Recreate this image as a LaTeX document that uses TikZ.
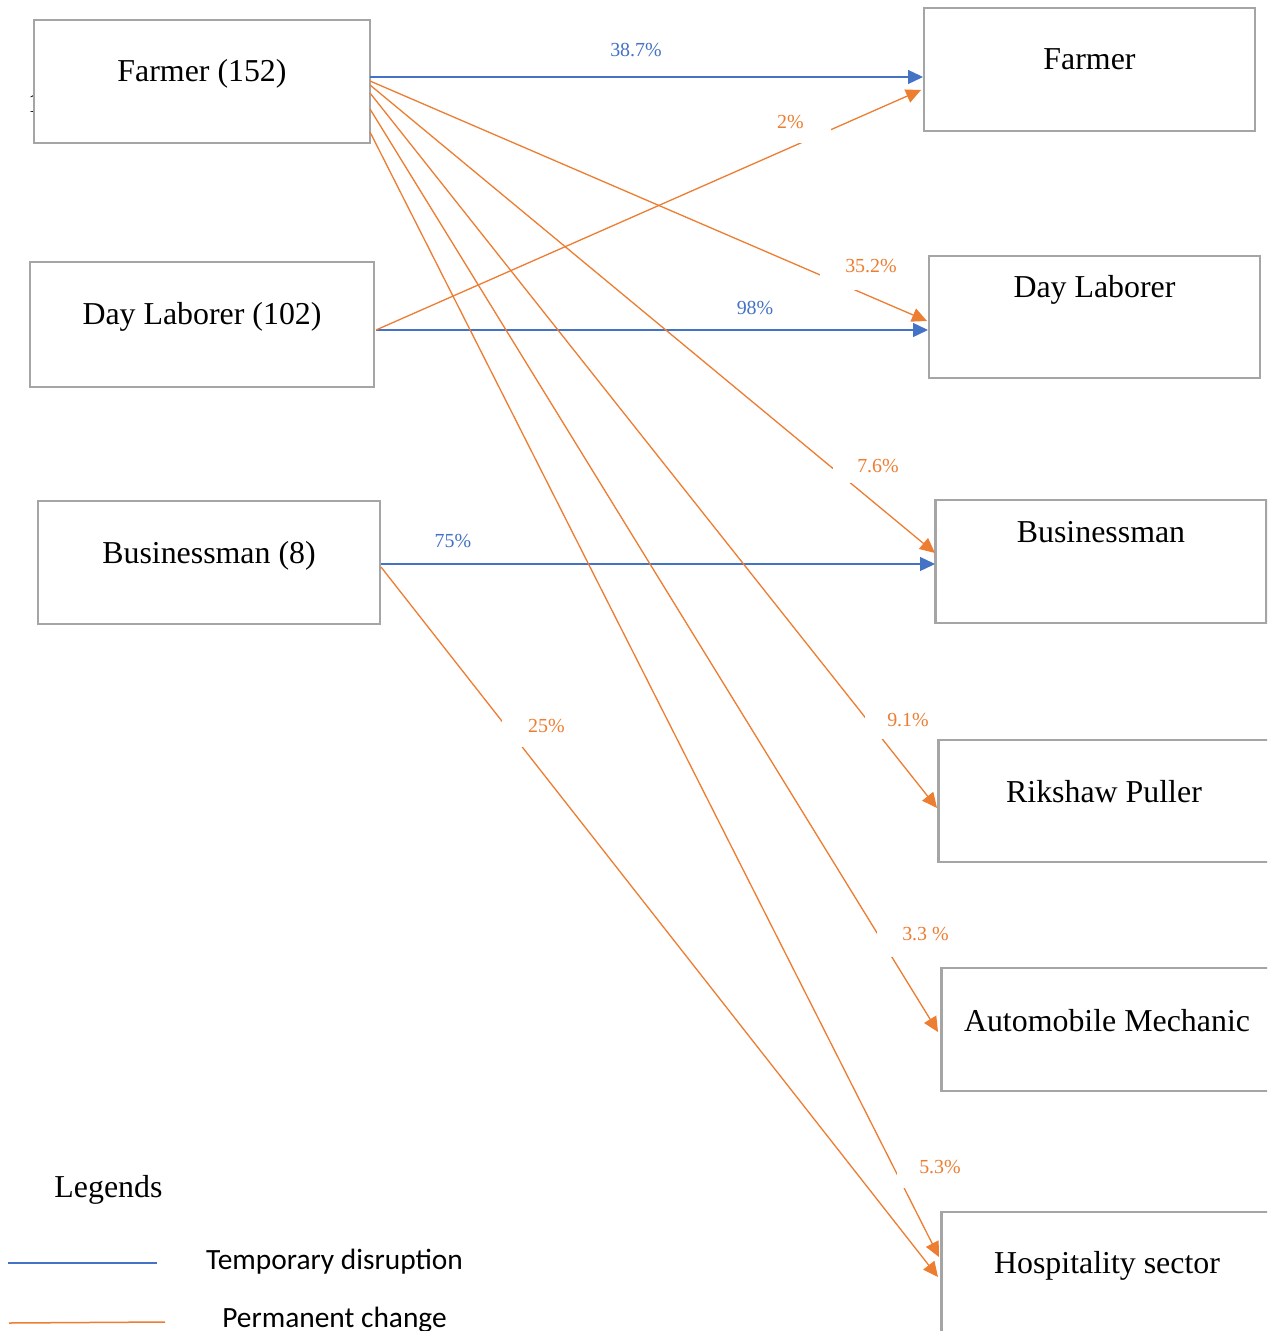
\documentclass[tikz,border=0pt]{standalone}
\usepackage{fontspec}
\setmainfont{Liberation Serif}
\newfontfamily\legfont{Carlito}
\usetikzlibrary{arrows.meta}
\definecolor{boxgray}{HTML}{A5A5A5}
\definecolor{tblue}{HTML}{4472C4}
\definecolor{porange}{HTML}{ED7D31}
\begin{document}
\begin{tikzpicture}[x=1bp,y=-1bp,
  box/.style={draw=boxgray, line width=2.7bp, fill=white, inner sep=0pt, font=\fontsize{32}{38}\selectfont},
  rbox/.style={box, minimum width=331bp},
  temp/.style={draw=tblue, line width=1.3bp, -{Triangle[length=15bp,width=14bp]}},
  perm/.style={draw=porange, line width=1.3bp, -{Triangle[length=15bp,width=14bp]}},
  pct/.style={font=\fontsize{20}{24}\selectfont, anchor=base, inner sep=0pt},
  gapbox/.style={fill=white},
  legtext/.style={font=\legfont\fontsize{29.5}{34}\selectfont, anchor=base, inner sep=0pt},
]
\clip (0,0) rectangle (1267,1331);
\fill[white] (0,0) rectangle (1267,1331);

% fragment of hidden text behind the first box
\node[font=\fontsize{28}{30}\selectfont, anchor=base, inner sep=0pt] (frag) at (35,113) {1};

% left column
\node[box, minimum width=336bp, text height=62bp, text depth=61bp] (Lf) at (202,81.5) {Farmer (152)};
\node[box, minimum width=344bp, text height=63bp, text depth=62bp] (Ld) at (202,324.5) {Day Laborer (102)};
\node[box, minimum width=342bp, text height=62bp, text depth=61bp] (Lb) at (209,562.5) {Businessman (8)};

% right column
\node[rbox, text height=62bp, text depth=61bp] (Rf) at (1089.5,69.5) {Farmer};
\node[rbox, text height=42bp, text depth=80bp] (Rd) at (1094.5,317) {Day Laborer};
\node[rbox, text height=42bp, text depth=81bp] (Rb) at (1101,561.5) {Businessman};
\node[rbox, text height=62bp, text depth=60bp] (Rr) at (1104,801) {Rikshaw Puller};
\node[rbox, text height=63bp, text depth=60bp] (Ra) at (1107,1029.5) {Automobile Mechanic};
\node[rbox, text height=61bp, text depth=62bp] (Rh) at (1107,1273.5) {Hospitality sector};

% connector end points
\coordinate (f0) at (370,77);
\coordinate (f1) at (370,81);
\coordinate (f2) at (370,85);
\coordinate (f3) at (370,93);
\coordinate (f4) at (370,109);
\coordinate (f5) at (370,132);
\coordinate (d0) at (376,330);
\coordinate (b0) at (381,564);
\coordinate (b1) at (381,567);
\coordinate (tf0) at (923,77);
\coordinate (tf1) at (921,90);
\coordinate (td0) at (928,330);
\coordinate (td1) at (927,321);
\coordinate (tb0) at (935,564);
\coordinate (tb1) at (935,553);
\coordinate (tr1) at (937,808);
\coordinate (ta1) at (938,1032);
\coordinate (th1) at (939,1257);
\coordinate (th2) at (938,1277);

% temporary disruption
\draw[temp] (f0) -- (tf0);
\draw[temp] (d0) -- (td0);
\draw[temp] (b0) -- (tb0);

% permanent change
\draw[perm] (d0) -- (tf1);
\draw[perm] (f1) -- (td1);
\draw[perm] (f2) -- (tb1);
\draw[perm] (f3) -- (tr1);
\draw[perm] (f4) -- (ta1);
\draw[perm] (f5) -- (th1);
\draw[perm] (b1) -- (th2);

% white label boxes that interrupt the lines
\fill[gapbox] (770,100) rectangle (831,143);
\fill[gapbox] (820,250) rectangle (905,290);
\fill[gapbox] (833,450) rectangle (905,483);
\fill[gapbox] (865,700) rectangle (953,739);
\fill[gapbox] (877,915) rectangle (960,957);
\fill[gapbox] (897,1145) rectangle (975,1188);
\fill[gapbox] (502,705) rectangle (585,747);

% percentage labels
\node[pct, text=tblue] (p1) at (636,57) {38.7\%};
\node[pct, text=porange] (p2) at (790.5,129) {2\%};
\node[pct, text=porange] (p3) at (871,273) {35.2\%};
\node[pct, text=tblue] (p4) at (755,315) {98\%};
\node[pct, text=porange] (p5) at (878,472) {7.6\%};
\node[pct, text=tblue] (p6) at (453,547) {75\%};
\node[pct, text=porange] (p7) at (908,726) {9.1\%};
\node[pct, text=porange] (p8) at (925.5,940) {3.3 \%};
\node[pct, text=porange] (p9) at (940,1173) {5.3\%};
\node[pct, text=porange] (p10) at (546.5,732) {25\%};

% legend
\node[font=\fontsize{32}{38}\selectfont, anchor=base, inner sep=0pt] (leg) at (108.5,1197) {Legends};
\coordinate (lb1) at (8,1263);
\coordinate (lb2) at (157,1263);
\coordinate (lo1) at (9,1323);
\coordinate (lo2) at (165,1322);
\draw[tblue, line width=1.5bp] (lb1) -- (lb2);
\draw[porange, line width=1.5bp] (lo1) -- (lo2);
\node[legtext] (lt) at (334.5,1269) {Temporary disruption};
\node[legtext] (lp) at (334.5,1327) {Permanent change};
\end{tikzpicture}
\end{document}
